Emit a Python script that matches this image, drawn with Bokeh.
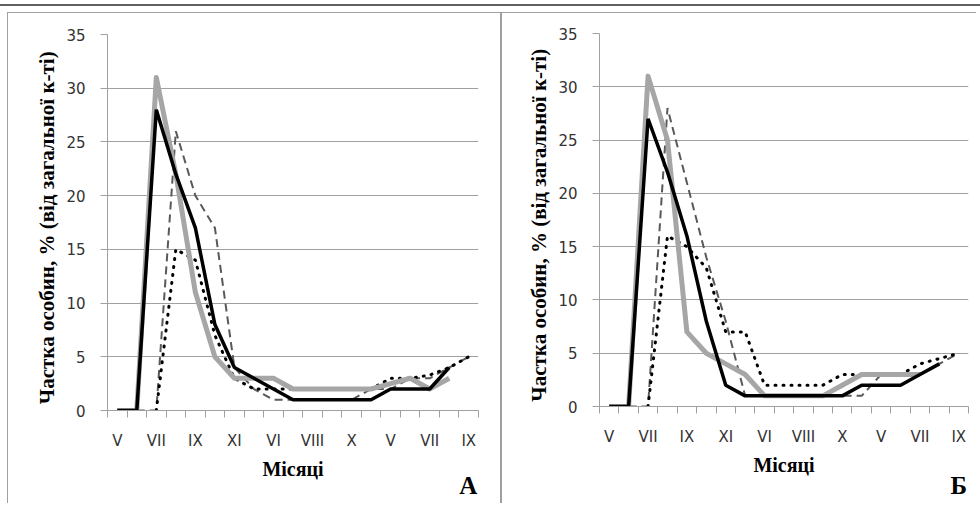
from bokeh.plotting import figure
from bokeh.models import FixedTicker, Range1d, Label, Div
from bokeh.layouts import row, column
from bokeh.embed import file_html
from bokeh.resources import INLINE

months = ["V", "VI", "VII", "VIII", "IX", "X", "XI",
          "V", "VI", "VII", "VIII", "IX", "X", "XI",
          "V", "VI", "VII", "VIII", "IX"]
y_ticks = [0, 5, 10, 15, 20, 25, 30, 35]

# Panel A
a_black = [0, 0, 28, 22, 17, 8, 4, 3, 2, 1, 1, 1, 1, 1, 2, 2, 2, 4, None]
a_gray = [0, 0, 31, 22, 11, 5, 3, 3, 3, 2, 2, 2, 2, 2, 2.5, 3, 2, 3, None]
a_dashed = [None, 0, 0, 26, 20, 17, 4, 2, 1, 1, 1, 1, 1, 2, 2, 3, 3, 4, 5]
a_dotted = [None, None, 0, 15, 14, 7, 3, 2, 2, 2, 2, 2, 2, 2, 3, 3, 3.3, 4, 5]

# Panel B
b_black = [0, 0, 27, 22, 16, 8, 2, 1, 1, 1, 1, 1, 1, 2, 2, 2, 3, 4, None]
b_gray = [0, 0, 31, 25, 7, 5, 4, 3, 1, 1, 1, 1, 2, 3, 3, 3, 3, None, None]
b_dashed = [None, 0, 0, 28, 21, 14, 8, 1, 1, 1, 1, 1, 1, 1, 3, 3, 3, 4, 5]
b_dotted = [None, None, 0, 16, 15, 13, 7, 7, 2, 2, 2, 2, 3, 3, 3, 3, 4, 4.5, 5]

y_title = "Частка особин,  % (від загальної  к-ті)"
x_title = "Місяці"

GRID = "#a0a0a0"
SERIF = "Liberation Serif"
SANS = "DejaVu Sans"
H = 491


def nan(vals):
    return [float("nan") if v is None else v for v in vals]


def panel(black, gray, dashed, dotted, letter, lx, ly, width, ml, mr, mt, mb, styles):
    xs = list(range(len(months)))
    p = figure(width=width, height=H, x_range=Range1d(-0.5, 18.5), y_range=Range1d(0, 35),
               output_backend="svg", toolbar_location=None,
               min_border_left=ml, min_border_right=mr, min_border_top=mt, min_border_bottom=mb,
               background_fill_color="white", border_fill_color="white", styles=styles)
    p.outline_line_color = None
    p.xgrid.visible = False
    p.ygrid.grid_line_color = GRID
    p.ygrid.grid_line_width = 1
    p.ygrid.ticker = FixedTicker(ticks=y_ticks)

    # x axis: ticks between categories, labels on every other category
    xa = p.xaxis[0]
    xa.ticker = FixedTicker(ticks=xs[::2], minor_ticks=[i - 0.5 for i in range(len(months) + 1)])
    xa.major_label_overrides = {i: months[i] for i in xs[::2]}
    xa.major_tick_out = 0
    xa.major_tick_in = 0
    xa.minor_tick_out = 7
    xa.minor_tick_in = 0
    xa.minor_tick_line_color = GRID
    xa.axis_line_color = GRID
    xa.major_label_text_font = SANS
    xa.major_label_text_font_size = "15px"
    xa.major_label_text_color = "#333333"
    xa.major_label_standoff = 14
    xa.axis_label = x_title
    xa.axis_label_text_font = SERIF
    xa.axis_label_text_font_style = "bold"
    xa.axis_label_text_font_size = "20px"
    xa.axis_label_text_color = "black"
    xa.axis_label_standoff = 5

    ya = p.yaxis[0]
    ya.ticker = FixedTicker(ticks=y_ticks)
    ya.major_tick_out = 7
    ya.major_tick_in = 0
    ya.minor_tick_out = 0
    ya.minor_tick_in = 0
    ya.major_tick_line_color = GRID
    ya.axis_line_color = GRID
    ya.major_label_text_font = SANS
    ya.major_label_text_font_size = "15px"
    ya.major_label_text_color = "#333333"
    ya.major_label_standoff = 15
    ya.axis_label = y_title
    ya.axis_label_text_font = SERIF
    ya.axis_label_text_font_style = "bold"
    ya.axis_label_text_font_size = "21px"
    ya.axis_label_text_color = "black"
    ya.axis_label_standoff = 4

    p.line(xs, nan(dashed), line_color="#595959", line_width=2, line_dash="8 5")
    p.line(xs, nan(dotted), line_color="black", line_width=3, line_dash="1 7", line_cap="round")
    p.line(xs, nan(gray), line_color="#a6a6a6", line_width=5, line_join="round")
    p.line(xs, nan(black), line_color="black", line_width=3.5)

    # panel letter, placed in data coordinates below the plot area
    p.add_layout(Label(x=lx, y=ly, text=letter, text_font=SERIF, text_font_style="bold",
                       text_font_size="25px", text_color="black", text_baseline="alphabetic",
                       text_align="left"), "left")
    return p


border = "1px solid #a0a0a0"
pA = panel(a_black, a_gray, a_dashed, a_dotted, "А", 17.52, -6.98, 494, 99, 24, 21, 94,
           {"border-left": border, "border-top": border, "border-right": border})
pB = panel(b_black, b_gray, b_dashed, b_dotted, "Б", 17.57, -7.42, 475, 97, 9, 20, 98,
           {"border-left": border, "border-top": border})

top_line = Div(text='<div style="position:absolute;left:0px;top:4px;height:2px;width:980px;'
                    'background:#606060"></div>',
               width=980, height=8, margin=0)

layout = column(top_line,
                row(column(pA, margin=0), column(pB, margin=0), spacing=0, margin=(4, 0, 0, 7)),
                spacing=0)

open("out.html", "w").write(file_html(layout, INLINE))
